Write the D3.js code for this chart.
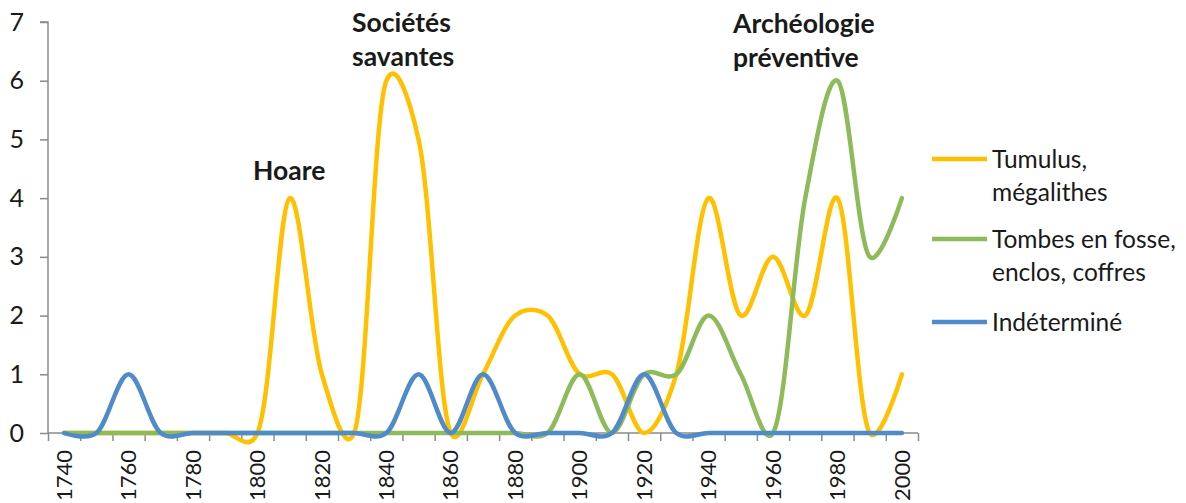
<!DOCTYPE html>
<html>
<head>
<meta charset="utf-8">
<script src="https://cdn.jsdelivr.net/npm/d3@7"></script>
<style>
  html, body { margin: 0; padding: 0; background: #fff; }
  svg { display: block; }
  text { font-family: Lato, "Open Sans", sans-serif; fill: #1a1a1a; }
</style>
</head>
<body>
<svg id="chart" width="1186" height="503"></svg>
<script>
const years = [1740,1750,1760,1770,1780,1790,1800,1810,1820,1830,1840,1850,1860,1870,1880,1890,1900,1910,1920,1930,1940,1950,1960,1970,1980,1990,2000];
const tumulus = [0,0,0,0,0,0,0,4,1,0,6,5,0,1,2,2,1,1,0,1,4,2,3,2,4,0,1];
const tombes  = [0,0,0,0,0,0,0,0,0,0,0,0,0,0,0,0,1,0,1,1,2,1,0,4,6,3,4];
const indet   = [0,0,1,0,0,0,0,0,0,0,0,1,0,1,0,0,0,0,1,0,0,0,0,0,0,0,0];
const yTicks = [0,1,2,3,4,5,6,7];
const xLabelYears = [1740,1760,1780,1800,1820,1840,1860,1880,1900,1920,1940,1960,1980,2000];
const seriesNames = [["Tumulus,", "mégalithes"], ["Tombes en fosse,", "enclos, coffres"], ["Indéterminé"]];
const seriesColors = ["#FFC000", "#8DBB5A", "#4F8AC9"];
const annotations = [
  {lines: ["Hoare"], x: 253, y: 180},
  {lines: ["Sociétés", "savantes"], x: 352, y: 32},
  {lines: ["Archéologie", "préventive"], x: 733, y: 33}
];

const svg = d3.select("#chart");
const mLeft = 48, mRight = 918, mTop = 22, mBottom = 433;
const axisColor = "#8a8a8a";

const x = d3.scaleBand().domain(years).range([mLeft, mRight]);
const xb = d3.scaleLinear().domain([0, years.length]).range([mLeft, mRight]);
const y = d3.scaleLinear().domain([0, 7]).range([mBottom, mTop]);
const cx = d => x(d) + x.bandwidth() / 2;

// Y axis
const yAxis = svg.append("g").attr("transform", `translate(${mLeft},0)`)
  .call(d3.axisLeft(y).tickValues(yTicks).tickSize(8).tickPadding(16).tickFormat(d3.format("d")));
yAxis.select(".domain").attr("stroke", axisColor).attr("stroke-width", 1.5).attr("d", `M-8,${mTop}H0V${mBottom}`);
yAxis.selectAll(".tick line").attr("stroke", axisColor).attr("stroke-width", 1.5);
yAxis.selectAll(".tick text").style("font-size", "25px").attr("fill", "#1a1a1a");

// X axis ticks (category boundaries)
const xAxisTicks = svg.append("g").attr("transform", `translate(0,${mBottom})`)
  .call(d3.axisBottom(xb).tickValues(d3.range(0, years.length + 1)).tickSize(8).tickFormat(""));
xAxisTicks.select(".domain").attr("stroke", axisColor).attr("stroke-width", 1.5).attr("d", `M${mLeft},0H${mRight}`);
xAxisTicks.selectAll(".tick line").attr("stroke", axisColor).attr("stroke-width", 1.5);

// X labels
const xAxisLabels = svg.append("g").attr("transform", `translate(0,${mBottom})`)
  .call(d3.axisBottom(x).tickValues(xLabelYears).tickSize(0).tickFormat(d3.format("d")));
xAxisLabels.select(".domain").remove();
xAxisLabels.selectAll(".tick text")
  .style("font-size", "22px")
  .attr("fill", "#1a1a1a")
  .attr("text-anchor", "end")
  .attr("dy", "0.35em")
  .attr("transform", "translate(0,17) rotate(-90)")
  .attr("x", 0).attr("y", 0);

// Lines
const line = d3.line().x((v, i) => cx(years[i])).y(v => y(v)).curve(d3.curveCatmullRom.alpha(0.2));
[tumulus, tombes, indet].forEach((s, k) => {
  svg.append("path").datum(s)
    .attr("d", line)
    .attr("fill", "none")
    .attr("stroke", seriesColors[k])
    .attr("stroke-width", 4.5)
    .attr("stroke-linecap", "round")
    .attr("stroke-linejoin", "round");
});

// Annotations
annotations.forEach(a => {
  const t = svg.append("text").attr("x", a.x).attr("y", a.y)
    .style("font-size", "26.5px").style("font-weight", "bold").attr("fill", "#111");
  a.lines.forEach((l, i) => t.append("tspan").attr("x", a.x).attr("dy", i === 0 ? 0 : 34).text(l));
});

// Legend
const legendBase = [168, 248, 331];
seriesNames.forEach((lines, k) => {
  const by = legendBase[k];
  svg.append("line").attr("x1", 932).attr("x2", 987).attr("y1", by - 9).attr("y2", by - 9)
    .attr("stroke", seriesColors[k]).attr("stroke-width", 4.5);
  const t = svg.append("text").attr("x", 992).attr("y", by).style("font-size", "24.5px").attr("fill", "#1a1a1a");
  lines.forEach((l, i) => t.append("tspan").attr("x", 992).attr("dy", i === 0 ? 0 : 33).text(l));
});
</script>
</body>
</html>
